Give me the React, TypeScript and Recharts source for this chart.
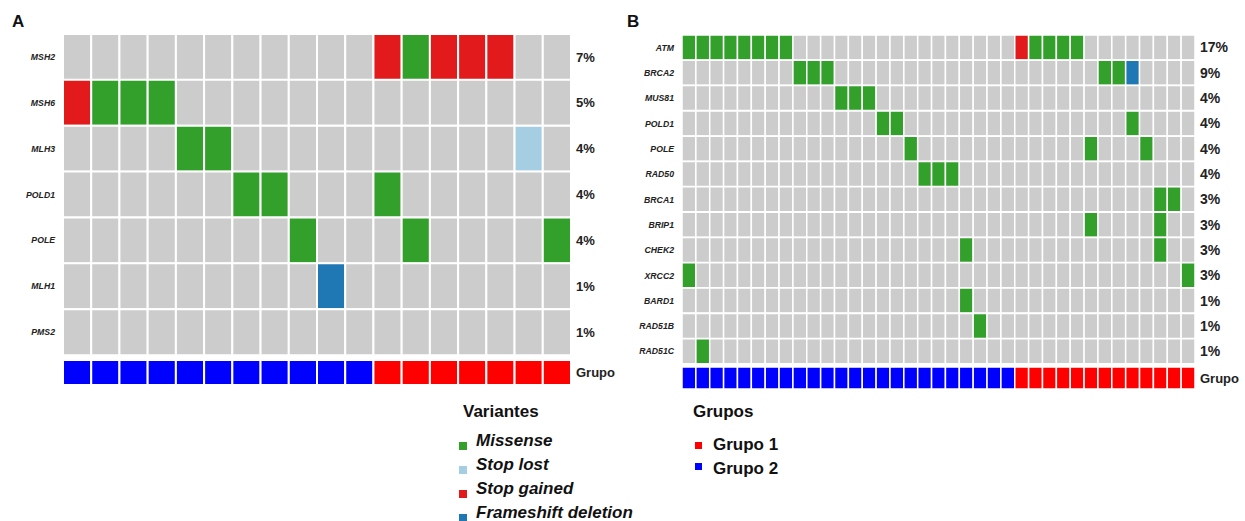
import { Bar, BarChart, Cell, LabelList, XAxis, YAxis } from "recharts";

// panel A: mismatch repair genes, 18 samples
const genesA = ["MSH2", "MSH6", "MLH3", "POLD1", "POLE", "MLH1", "PMS2"];
const pctA = ["7%", "5%", "4%", "4%", "4%", "1%", "1%"];
// 0 none, 1 missense, 2 stop lost, 3 stop gained, 4 frameshift deletion
const variantsA = [
  "000000000003133300",
  "311100000000000000",
  "000011000000000020",
  "000000110001000000",
  "000000001000100001",
  "000000000400000000",
  "000000000000000000",
];
const groupsA = "222222222221111111";

// panel B: other repair genes, 37 samples
const genesB = [
  "ATM", "BRCA2", "MUS81", "POLD1", "POLE", "RAD50", "BRCA1",
  "BRIP1", "CHEK2", "XRCC2", "BARD1", "RAD51B", "RAD51C",
];
const pctB = ["17%", "9%", "4%", "4%", "4%", "4%", "3%", "3%", "3%", "3%", "1%", "1%", "1%"];
const variantsB = [
  "1111111100000000000000003111100000000",
  "0000000011100000000000000000001140000",
  "0000000000011100000000000000000000000",
  "0000000000000011000000000000000010000",
  "0000000000000000100000000000010001000",
  "0000000000000000011100000000000000000",
  "0000000000000000000000000000000000110",
  "0000000000000000000000000000010000100",
  "0000000000000000000010000000000000100",
  "1000000000000000000000000000000000001",
  "0000000000000000000010000000000000000",
  "0000000000000000000001000000000000000",
  "0100000000000000000000000000000000000",
];
const groupsB = "2222222222222222222222221111111111111";

const variantLabels = ["Missense", "Stop lost", "Stop gained", "Frameshift deletion"];
const groupLabels = ["Grupo 1", "Grupo 2"];

const FONT = '"Liberation Sans", Arial, sans-serif';
const variantColors = ["#cccccc", "#33a02c", "#a6cee3", "#e31a1c", "#1f78b4"];
const groupColors = ["#ffffff", "#ff0000", "#0000ff"];

type Margin = { top: number; right: number; bottom: number; left: number };

function buildRows(names: string[], labels: string[], n: number) {
  return names.map((name, i) => {
    const row: Record<string, string | number> = { gene: name, pct: labels[i] };
    for (let c = 0; c < n; c++) row[`c${c}`] = 1;
    return row;
  });
}

function Grid({
  genes,
  pcts,
  variants,
  width,
  height,
  margin,
  axisWidth,
  gap,
  pctSize,
}: {
  genes: string[];
  pcts: string[];
  variants: string[];
  width: number;
  height: number;
  margin: Margin;
  axisWidth: number;
  gap: number;
  pctSize: number;
}) {
  const n = variants[0].length;
  const data = buildRows(genes, pcts, n);
  const cols = Array.from({ length: n }, (_, c) => c);
  return (
    <BarChart width={width} height={height} data={data} layout="vertical" margin={margin} barCategoryGap={0}>
      <XAxis type="number" domain={[0, n]} hide />
      <YAxis
        type="category"
        dataKey="gene"
        width={axisWidth}
        axisLine={false}
        tickLine={false}
        interval={0}
        tick={{ fontSize: 8.7, fontStyle: "italic", fontWeight: "bold", fill: "#222", fontFamily: FONT }}
      />
      {cols.map((c) => (
        <Bar key={c} dataKey={`c${c}`} stackId="s" stroke="#fff" strokeWidth={gap} isAnimationActive={false}>
          {variants.map((v, r) => (
            <Cell key={r} fill={variantColors[Number(v[c])]} />
          ))}
          {c === n - 1 && (
            <LabelList
              dataKey="pct"
              position="right"
              offset={5}
              fill="#222"
              stroke="none"
              fontSize={pctSize}
              fontWeight="bold"
              fontFamily={FONT}
            />
          )}
        </Bar>
      ))}
    </BarChart>
  );
}

function GroupBar({
  groups,
  width,
  height,
  margin,
  gap,
}: {
  groups: string;
  width: number;
  height: number;
  margin: Margin;
  gap: number;
}) {
  const n = groups.length;
  const data = buildRows(["Grupo"], ["Grupo"], n);
  const cols = Array.from({ length: n }, (_, c) => c);
  return (
    <BarChart width={width} height={height} data={data} layout="vertical" margin={margin} barCategoryGap={0}>
      <XAxis type="number" domain={[0, n]} hide />
      <YAxis type="category" dataKey="gene" hide />
      {cols.map((c) => (
        <Bar key={c} dataKey={`c${c}`} stackId="g" stroke="#fff" strokeWidth={gap} isAnimationActive={false}>
          <Cell fill={groupColors[Number(groups[c])]} />
          {c === n - 1 && (
            <LabelList
              dataKey="pct"
              position="right"
              offset={5}
              fill="#222"
              stroke="none"
              fontSize={13}
              fontWeight="bold"
              fontFamily={FONT}
            />
          )}
        </Bar>
      ))}
    </BarChart>
  );
}

const abs = (left: number, top: number): React.CSSProperties => ({ position: "absolute", left, top });

export default function App() {
  const textBase: React.CSSProperties = { fontFamily: FONT, fontWeight: "bold", lineHeight: 1, color: "#111", whiteSpace: "nowrap" };
  return (
    <div style={{ position: "absolute", left: 0, top: 0, width: 1245, height: 521, background: "#fff", overflow: "hidden" }}>
      <div style={{ ...abs(12, 13), ...textBase, fontSize: 17 }}>A</div>
      <div style={{ ...abs(627, 13), ...textBase, fontSize: 17 }}>B</div>

      <div style={abs(0, 0)}>
        <Grid
          genes={genesA}
          pcts={pctA}
          variants={variantsA}
          width={620}
          height={360}
          margin={{ top: 34, right: 49, bottom: 5, left: 3 }}
          axisWidth={60}
          gap={2}
          pctSize={13}
        />
      </div>
      <div style={abs(0, 360)}>
        <GroupBar groups={groupsA} width={620} height={25} margin={{ top: 0, right: 49, bottom: 0, left: 63 }} gap={2} />
      </div>

      <div style={abs(620, 0)}>
        <Grid
          genes={genesB}
          pcts={pctB}
          variants={variantsB}
          width={625}
          height={370}
          margin={{ top: 35, right: 50, bottom: 6, left: 5 }}
          axisWidth={57}
          gap={1.5}
          pctSize={14}
        />
      </div>
      <div style={abs(620, 367)}>
        <GroupBar groups={groupsB} width={625} height={22} margin={{ top: 0, right: 50, bottom: 0, left: 62 }} gap={1.5} />
      </div>

      {/* legend: variants */}
      <div style={{ ...abs(463, 403), ...textBase, fontSize: 17 }}>Variantes</div>
      {variantLabels.map((label, i) => (
        <div key={label}>
          <div style={{ ...abs(459, 442 + i * 24), width: 8, height: 8, background: variantColors[i + 1] }} />
          <div style={{ ...abs(476, 432 + i * 24), ...textBase, fontSize: 17, fontStyle: "italic" }}>{label}</div>
        </div>
      ))}

      {/* legend: groups */}
      <div style={{ ...abs(693, 403), ...textBase, fontSize: 17 }}>Grupos</div>
      {groupLabels.map((label, i) => (
        <div key={label}>
          <div style={{ ...abs(695, 442 + i * 21), width: 7, height: 7, background: groupColors[i + 1] }} />
          <div style={{ ...abs(713, 436 + i * 24), ...textBase, fontSize: 17 }}>{label}</div>
        </div>
      ))}
    </div>
  );
}
